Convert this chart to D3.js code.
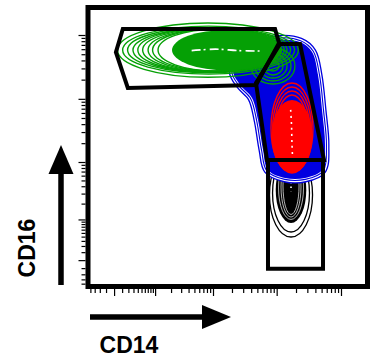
<!DOCTYPE html>
<html>
<head>
<meta charset="utf-8">
<script src="https://cdn.jsdelivr.net/npm/d3@7"></script>
<style>
  body { margin: 0; background: #fff; }
  svg { display: block; }
  text { font-family: "Liberation Sans", Arial, sans-serif; font-weight: bold; }
</style>
</head>
<body>
<svg id="chart" width="374" height="358"></svg>
<script>
// tick values (biexponential-like display of intensity)
const majorTicks = [0, 100, 1000, 10000, 100000];
const minorMultiples = [2, 3, 4, 5, 6, 7, 8, 9];
const minorDecades = [10, 100, 1000, 10000];
const smallTicks = [-40, -30, -20, -10, 10];

// contour levels: [CD14, CD16, x radius (decades), y radius (decades)]
const greenRings = [
    [830, 58000, 1.42, 0.43],
    [850, 58000, 1.35, 0.38],
    [865, 58000, 1.28, 0.36],
    [895, 58000, 1.21, 0.35],
    [930, 58000, 1.15, 0.345],
    [965, 58000, 1.09, 0.34],
    [1000, 58000, 1.02, 0.335],
    [1050, 58000, 0.97, 0.332],
    [1115, 58000, 0.91, 0.33]
];
const greenCore = [[1670, 58000, 0.864, 0.32]];
const greenLobeRings = [
    [8770, 32700, 0.345, 0.285],
    [8770, 32700, 0.283, 0.237],
    [8770, 32700, 0.22, 0.19],
    [8770, 32700, 0.157, 0.142],
    [8770, 32700, 0.094, 0.079]
];

// outline of the blue population: [CD14, CD16]
const blueOutline = [
    [9430, 83500], [23070, 77750], [35500, 54250], [43960, 23660],
    [50740, 6680], [56430, 1870], [50740, 742], [27590, 549],
    [13480, 549], [7325, 742], [6127, 1557], [5120, 4650],
    [4123, 10310], [2700, 16480], [2100, 26340], [2600, 37800],
    [4594, 62600]
];

const redRings = [
    [17320, 3480, 0.33, 0.712],
    [17320, 3290, 0.305, 0.672],
    [17320, 3120, 0.28, 0.633],
    [17320, 2950, 0.256, 0.593]
];
const redCore = [[17320, 2552, 0.322, 0.578]];

const blackRings = [
    [16720, 284, 0.338, 0.665],
    [16720, 307, 0.29, 0.617]
];
const blackCore = [[16720, 345, 0.24, 0.522]];
const blackInner = [
    [16720, 374, 0.196, 0.498],
    [16720, 388, 0.157, 0.475],
    [16720, 404, 0.126, 0.451]
];

// white ridges inside the dense cores: [CD14, CD16]
const greenRidge = [[450, 57000], [1100, 60000], [2500, 57000], [6000, 56000]];
const redRidge = [[16500, 6700], [17000, 4000], [17300, 2000], [17600, 1300]];
const blackRidge = [[16720, 560], [16720, 330]];

// gates: [CD14, CD16]
const greenGate = [[11, 124000], [9430, 124000], [10900, 75000], [4760, 16500], [19, 14800], [2, 54000]];
const blueGate = [[11270, 72400], [23070, 72400], [54460, 1077], [7070, 1077], [4760, 17700]];
const blackGate = [[7325, 1077], [52560, 1077], [52560, -11], [7325, -11]];

const frame = {left: 88, top: 7.5, right: 367.5, bottom: 286.5};

const x = d3.scaleSymlog().constant(30).domain([1000, 100000]).range([213, 341]);
const y = d3.scaleSymlog().constant(30).domain([1000, 100000]).range([162, 35]);
const xDecade = x(10000) - x(1000);
const yDecade = y(1000) - y(10000);

const svg = d3.select('#chart');
const plot = svg.append('g');

function drawEllipses(g, rings, fill, stroke, strokeWidth){
    g.selectAll(null)
     .data(rings)
     .enter()
     .append('ellipse')
     .attr('cx', function(d){return x(d[0]);})
     .attr('cy', function(d){return y(d[1]);})
     .attr('rx', function(d){return d[2]*xDecade;})
     .attr('ry', function(d){return d[3]*yDecade;})
     .attr('fill', fill)
     .attr('stroke', stroke)
     .attr('stroke-width', strokeWidth);
}

const line = d3.line().x(function(d){return x(d[0]);}).y(function(d){return y(d[1]);});
const smoothLine = d3.line()
                     .x(function(d){return x(d[0]);})
                     .y(function(d){return y(d[1]);})
                     .curve(d3.curveCatmullRomClosed);
const ridgeLine = d3.line()
                    .x(function(d){return x(d[0]);})
                    .y(function(d){return y(d[1]);})
                    .curve(d3.curveCatmullRom);

function drawRidge(points, dash){
    plot.append('path')
        .attr('d', ridgeLine(points))
        .attr('fill', 'none')
        .attr('stroke', '#fff')
        .attr('stroke-width', 1.6)
        .attr('stroke-dasharray', dash);
}

// black (bottom) population
drawEllipses(plot, blackRings, 'none', '#000', 1.3);
drawEllipses(plot, blackCore, '#000', 'none', 0);
drawEllipses(plot, blackInner, 'none', '#fff', 0.7);
drawRidge(blackRidge, '1.5,3');

// blue population: filled outline with a few rim lines
const blueStack = [[9, '#0000e0'], [6.4, '#fff'], [4, '#0000e0'], [1.8, '#fff']];
blueStack.forEach(function(s){
    plot.append('path')
        .attr('d', smoothLine(blueOutline))
        .attr('fill', 'none')
        .attr('stroke', s[1])
        .attr('stroke-width', s[0]);
});
plot.append('path')
    .attr('d', smoothLine(blueOutline))
    .attr('fill', '#0000e0');

// green population
drawEllipses(plot, greenLobeRings, 'none', '#05a005', 1.3);
drawEllipses(plot, greenRings, 'none', '#05a005', 1.4);
drawEllipses(plot, greenCore, '#05a005', 'none', 0);
drawRidge(greenRidge, '9,3,2,4');

// red population
drawEllipses(plot, redRings, 'none', '#ff0000', 1.4);
drawEllipses(plot, redCore, '#ff0000', 'none', 0);
drawRidge(redRidge, '2,4');

// gates
[greenGate, blueGate, blackGate].forEach(function(gate){
    plot.append('path')
        .attr('d', line(gate) + 'Z')
        .attr('fill', 'none')
        .attr('stroke', '#000')
        .attr('stroke-width', 4)
        .attr('stroke-linejoin', 'miter');
});

// frame
svg.append('rect')
   .attr('x', frame.left)
   .attr('y', frame.top)
   .attr('width', frame.right - frame.left)
   .attr('height', frame.bottom - frame.top)
   .attr('fill', 'none')
   .attr('stroke', '#000')
   .attr('stroke-width', 5);

// ticks
const minorTicks = smallTicks.concat(minorDecades.flatMap(function(d){
    return minorMultiples.map(function(m){return m*d;});
}));

function addAxis(axis, transform){
    const g = svg.append('g').attr('transform', transform).call(axis);
    g.select('.domain').remove();
    g.selectAll('line').attr('stroke-width', 1.2);
}

addAxis(d3.axisLeft(y).tickValues(majorTicks).tickSize(7).tickFormat(''), 'translate(' + (frame.left - 2.5) + ',0)');
addAxis(d3.axisLeft(y).tickValues(minorTicks).tickSize(4).tickFormat(''), 'translate(' + (frame.left - 2.5) + ',0)');
addAxis(d3.axisBottom(x).tickValues(majorTicks).tickSize(7).tickFormat(''), 'translate(0,' + (frame.bottom + 2.5) + ')');
addAxis(d3.axisBottom(x).tickValues(minorTicks).tickSize(4).tickFormat(''), 'translate(0,' + (frame.bottom + 2.5) + ')');

// axis arrows
svg.append('line')
   .attr('x1', 61).attr('y1', 285).attr('x2', 61).attr('y2', 168)
   .attr('stroke', '#000').attr('stroke-width', 5.5);
svg.append('path')
   .attr('d', 'M61,145L73.5,174L48.5,174Z')
   .attr('fill', '#000');

svg.append('line')
   .attr('x1', 90).attr('y1', 317).attr('x2', 206).attr('y2', 317)
   .attr('stroke', '#000').attr('stroke-width', 5.3);
svg.append('path')
   .attr('d', 'M231,317L202,305L202,329Z')
   .attr('fill', '#000');

// axis titles
svg.append('text')
   .text('CD16')
   .attr('transform', 'translate(35,248) rotate(-90)')
   .attr('text-anchor', 'middle')
   .attr('font-size', 23);

svg.append('text')
   .text('CD14')
   .attr('x', 129)
   .attr('y', 353)
   .attr('text-anchor', 'middle')
   .attr('font-size', 23);
</script>
</body>
</html>
